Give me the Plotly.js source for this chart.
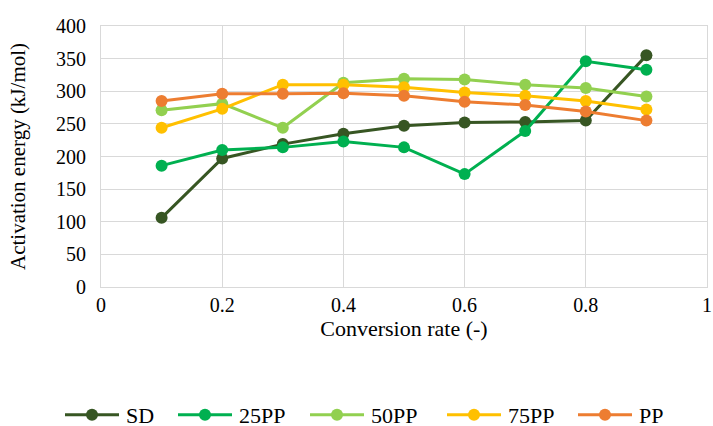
<!DOCTYPE html>
<html><head><meta charset="utf-8">
<script src="https://cdn.plot.ly/plotly-3.0.1.min.js"></script>
<style>
html,body{margin:0;padding:0;background:#fff}#chart{width:713px;height:426px}
</style>
</head><body><div id="chart"></div>
<script>
const conversion = [0.1, 0.2, 0.3, 0.4, 0.5, 0.6, 0.7, 0.8, 0.9];
const seriesNames = ["SD", "25PP", "50PP", "75PP", "PP"];
const SD    = [106, 197, 219, 235, 247, 252, 253, 255, 355];
const PP25  = [186, 210, 214, 223, 214, 173, 239, 346, 333];
const PP50  = [271, 281, 244, 313, 319, 318, 310, 305, 292];
const PP75  = [244, 273, 310, 310, 306, 298, 293, 285, 272];
const PP    = [285, 296, 296, 297, 293, 284, 279, 269, 255];
const colors = ["#375623", "#00B050", "#92D050", "#FFC000", "#ED7D31"];
const allSeries = [SD, PP25, PP50, PP75, PP];

const traces = allSeries.map((vals, i) => ({
  x: conversion, y: vals, name: seriesNames[i], type: "scatter", mode: "lines+markers",
  line: {color: colors[i], width: 3},
  marker: {color: colors[i], size: 12}
}));

const layout = {
  width: 713, height: 426,
  margin: {l: 101, r: 6, t: 26, b: 139},
  paper_bgcolor: "#fff", plot_bgcolor: "#fff",
  font: {family: "Liberation Serif, serif", size: 20, color: "#000"},
  showlegend: true,
  legend: {orientation: "h", x: 0.09, xanchor: "left", xref: "container",
           y: 0.026, yanchor: "middle", yref: "container",
           font: {size: 22}, itemwidth: 54, bgcolor: "rgba(0,0,0,0)"},
  xaxis: {
    range: [0, 1], dtick: 0.2, showgrid: true, gridcolor: "#d9d9d9", gridwidth: 1,
    showline: true, linecolor: "#d9d9d9", mirror: true, zeroline: false, ticks: "",
    tickfont: {size: 20},
    title: {text: "Conversion rate (-)", font: {size: 22}, standoff: 0}
  },
  yaxis: {
    range: [0, 400], dtick: 50, showgrid: true, gridcolor: "#d9d9d9", gridwidth: 1,
    showline: true, linecolor: "#d9d9d9", mirror: true, zeroline: false, ticks: "",
    tickfont: {size: 20}, ticklabelstandoff: 10,
    title: {text: "Activation energy (kJ/mol)", font: {size: 21}, standoff: 24}
  }
};
// line-start positions of the legend entries, as in the reference
const legendLineStart = [65, 178, 310, 447, 578];
Plotly.newPlot("chart", traces, layout, {displayModeBar: false}).then(gd => {
  try {
    const leg = gd.querySelector(".legend");
    const m = /translate\(\s*([-\d.]+)[ ,]+([-\d.]+)/.exec(leg.getAttribute("transform") || "");
    const lx = m ? parseFloat(m[1]) : 0;
    const sb = leg.querySelector(".scrollbox");
    if (sb) sb.removeAttribute("clip-path");
    const bg = leg.querySelector("rect.bg");
    if (bg) { bg.setAttribute("x", String(60 - lx)); bg.setAttribute("width", "620"); }
    const cid = sb && sb.getAttribute("clip-path");
    document.querySelectorAll("clipPath[id^='legend'] rect").forEach(r => {
      r.setAttribute("x", String(60 - lx)); r.setAttribute("width", "620");
    });
    leg.querySelectorAll(".traces").forEach((g, i) => {
      const mm = /translate\(\s*([-\d.]+)[ ,]+([-\d.]+)/.exec(g.getAttribute("transform") || "");
      const ty = mm ? parseFloat(mm[2]) : 0;
      if (legendLineStart[i] !== undefined) g.setAttribute("transform", `translate(${legendLineStart[i] - 5 - lx},${ty})`);
      g.querySelectorAll(".legendlines path").forEach(p => p.setAttribute("d", "M5,0h54"));
      g.querySelectorAll(".legendsymbols path").forEach(p => p.setAttribute("transform", "translate(32,0)"));
      const t = g.querySelector(".legendtext"); if (t) t.setAttribute("x", "66");
      const tog = g.querySelector("rect.legendtoggle"); if (tog) tog.setAttribute("width", "110");
    });
  } catch (e) {}
});
</script></body></html>
